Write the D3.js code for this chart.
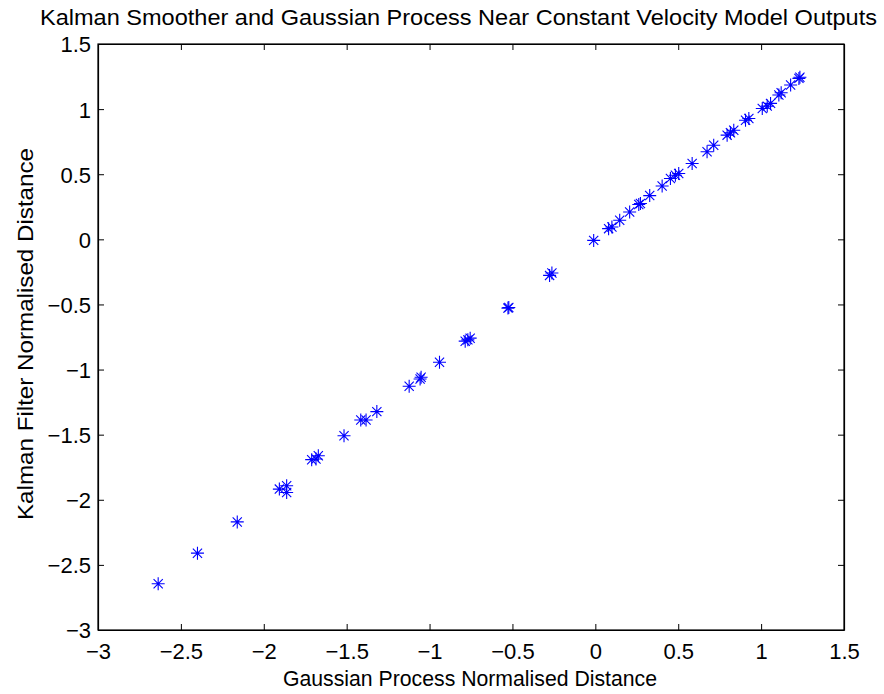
<!DOCTYPE html>
<html><head><meta charset="utf-8">
<script src="https://cdn.jsdelivr.net/npm/d3@7"></script>
<style>body{margin:0;background:#fff}svg{display:block}text{font-family:"Liberation Sans",Arial,sans-serif;fill:#000}</style>
</head><body><svg id="c" width="884" height="694"></svg>
<script>
const title = "Kalman Smoother and Gaussian Process Near Constant Velocity Model Outputs";
const xLabel = "Gaussian Process Normalised Distance";
const yLabel = "Kalman Filter Normalised Distance";
const xTicks = [-3,-2.5,-2,-1.5,-1,-0.5,0,0.5,1,1.5];
const yTicks = [-3,-2.5,-2,-1.5,-1,-0.5,0,0.5,1,1.5];
const gpDist = [-2.637,-2.40,-2.16,-1.906,-1.862,-1.862,-1.711,-1.671,-1.685,-1.516,-1.415,-1.383,-1.318,-1.123,-1.051,-1.057,-0.940,-0.785,-0.755,-0.769,-0.527,-0.522,-0.276,-0.262,
 -0.01,0.08,0.10,0.147,0.207,0.262,0.272,0.328,0.403,0.453,0.483,0.503,0.584,0.674,0.714,0.795,0.815,0.835,0.906,0.926,1.007,1.037,1.057,1.107,1.121,1.178,1.234,1.228];
const kfDist = [-2.645,-2.41,-2.17,-1.918,-1.892,-1.944,-1.692,-1.662,-1.687,-1.508,-1.387,-1.387,-1.323,-1.128,-1.059,-1.072,-0.944,-0.782,-0.759,-0.772,-0.528,-0.524,-0.277,-0.259,
 -0.008,0.082,0.095,0.146,0.21,0.267,0.275,0.336,0.41,0.467,0.492,0.505,0.582,0.672,0.723,0.80,0.818,0.838,0.915,0.928,1.005,1.023,1.044,1.108,1.126,1.185,1.245,1.236];

const svg = d3.select("#c");
const m = {l:98, r:40, t:44, b:64};
const W = 884, H = 694;
const x = d3.scaleLinear().domain([-3,1.5]).range([m.l, W-m.r]);
const y = d3.scaleLinear().domain([-3,1.5]).range([H-m.b, m.t]);
const fmt = d => (d<0? "\u2212":"") + Math.abs(d);
const fs = 22;

const tk = 6;
const gx = svg.append("g").attr("transform",`translate(0,${H-m.b})`)
  .call(d3.axisBottom(x).tickValues(xTicks).tickFormat(fmt).tickSizeInner(-tk).tickSizeOuter(0).tickPadding(13));
const gxt = svg.append("g").attr("transform",`translate(0,${m.t})`)
  .call(d3.axisTop(x).tickValues(xTicks).tickFormat("").tickSizeInner(-tk).tickSizeOuter(0));
const gy = svg.append("g").attr("transform",`translate(${m.l},0)`)
  .call(d3.axisLeft(y).tickValues(yTicks).tickFormat(fmt).tickSizeInner(-tk).tickSizeOuter(0).tickPadding(7));
const gyr = svg.append("g").attr("transform",`translate(${W-m.r},0)`)
  .call(d3.axisRight(y).tickValues(yTicks).tickFormat("").tickSizeInner(-tk).tickSizeOuter(0));
[gx,gxt,gy,gyr].forEach(g=>{
  g.selectAll("path").attr("stroke","#000").attr("stroke-width",1.2);
  g.selectAll("line").attr("stroke","#000").attr("stroke-width",1);
  g.selectAll("text").attr("font-size",fs).attr("font-family","Liberation Sans, Arial, sans-serif");
});
gy.selectAll("text").attr("dy","0.36em");
svg.append("rect").attr("x",m.l).attr("y",m.t).attr("width",W-m.r-m.l).attr("height",H-m.b-m.t)
  .attr("fill","none").attr("stroke","#000").attr("stroke-width",1.2);

const pts = gpDist.map((d,i)=>[d,kfDist[i]]);
const s = 6.5, dd = 4.6;
const star = `M${-s},0H${s}M0,${-s}V${s}M${-dd},${-dd}L${dd},${dd}M${-dd},${dd}L${dd},${-dd}`;
svg.append("g").selectAll("path").data(pts).join("path")
  .attr("d",star).attr("transform",d=>`translate(${x(d[0])},${y(d[1])})`)
  .attr("stroke","#0000ff").attr("stroke-width",1.1).attr("fill","none");

svg.append("text").attr("x",40).attr("y",25).attr("text-anchor","start")
  .attr("font-size",fs).attr("textLength",837).attr("lengthAdjust","spacingAndGlyphs").text(title);
svg.append("text").attr("x",470).attr("y",686).attr("text-anchor","middle")
  .attr("font-size",fs).attr("textLength",374).attr("lengthAdjust","spacingAndGlyphs").text(xLabel);
svg.append("text").attr("transform",`translate(33,334) rotate(-90)`).attr("text-anchor","middle")
  .attr("font-size",fs).attr("textLength",372).attr("lengthAdjust","spacingAndGlyphs").text(yLabel);
</script></body></html>
